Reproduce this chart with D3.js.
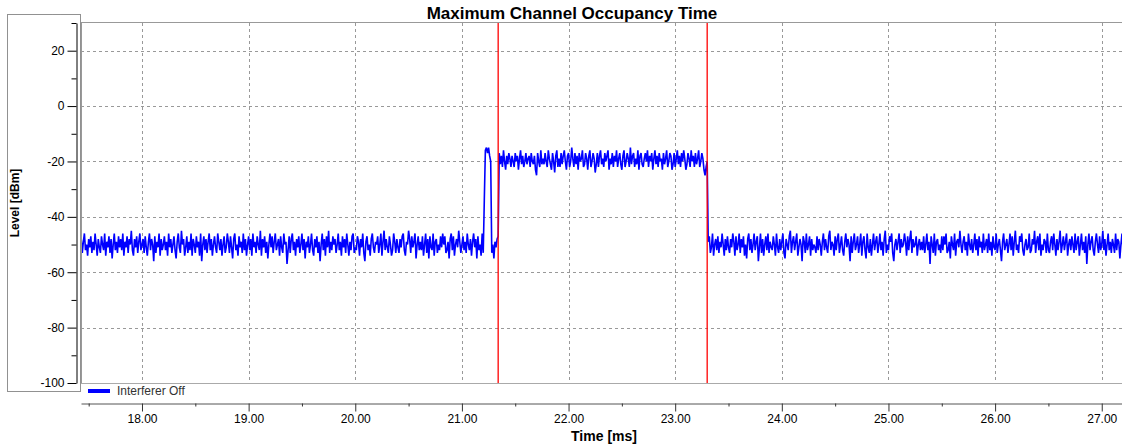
<!DOCTYPE html>
<html>
<head>
<meta charset="utf-8">
<script src="https://cdn.jsdelivr.net/npm/d3@7"></script>
<style>
  html, body { margin: 0; padding: 0; background: #fff; }
  svg { display: block; }
  text { font-family: "Liberation Sans", Arial, sans-serif; }
</style>
</head>
<body>
<svg id="chart" width="1122" height="448"></svg>
<script>
// ---- data ----
const chartTitle = "Maximum Channel Occupancy Time";
const xTitle = "Time [ms]";
const yTitle = "Level [dBm]";
const legendLabel = "Interferer Off";
const xTickValues = [18, 19, 20, 21, 22, 23, 24, 25, 26, 27];
const xMinorTicks = [17.5, 18.5, 19.5, 20.5, 21.5, 22.5, 23.5, 24.5, 25.5, 26.5];
const yTickValues = [-100, -80, -60, -40, -20, 0, 20];
const yMinorTicks = [-90, -70, -50, -30, -10, 10, 30];
const markerTimes = [21.34, 23.30];
const sampleStep = 0.01; // ms
const segmentStarts = [17.41, 21.21, 21.35, 23.31];

const offBefore = [
-47,-51,-48,-53,-49,-46,-52,-50,-54,-48,-51,-47,-53,-49,-52,-46,-50,-54,-48,-51,
-53,-47,-50,-52,-46,-54,-49,-51,-47,-53,-48,-55,-50,-46,-52,-49,-53,-47,-51,-48,
-52,-46,-54,-49,-51,-47,-53,-48,-50,-45,-52,-54,-48,-51,-47,-53,-49,-46,-52,-50,
-48,-53,-47,-51,-54,-49,-46,-52,-48,-50,-56,-47,-53,-49,-51,-46,-54,-48,-52,-50,
-47,-52,-49,-54,-46,-51,-48,-53,-50,-47,-52,-55,-49,-46,-51,-53,-45,-50,-48,-54,
-51,-47,-53,-49,-52,-46,-54,-48,-50,-53,-47,-51,-49,-54,-46,-56,-50,-47,-52,-48,
-53,-49,-46,-52,-48,-54,-50,-47,-51,-53,-46,-49,-52,-48,-54,-50,-47,-53,-51,-46,
-49,-53,-47,-51,-55,-48,-46,-52,-50,-54,-47,-51,-49,-53,-46,-52,-48,-54,-50,-47,
-52,-48,-54,-46,-51,-49,-53,-47,-50,-52,-45,-54,-48,-51,-47,-53,-49,-55,-50,-46,
-51,-47,-53,-49,-46,-52,-50,-48,-54,-47,-51,-53,-46,-50,-49,-57,-52,-47,-53,-48,
-46,-52,-49,-54,-48,-51,-47,-53,-50,-46,-52,-48,-55,-49,-51,-47,-53,-50,-46,-52,
-54,-48,-51,-47,-53,-49,-56,-50,-46,-52,-48,-54,-47,-51,-45,-53,-49,-52,-47,-50,
-48,-53,-50,-46,-52,-49,-54,-47,-51,-48,-53,-46,-50,-54,-49,-52,-47,-46,-53,-51,
-52,-47,-49,-54,-48,-51,-46,-53,-56,-49,-47,-52,-50,-54,-48,-46,-51,-53,-49,-50,
-47,-53,-50,-46,-54,-49,-45,-52,-48,-51,-53,-47,-50,-54,-52,-46,-49,-53,-48,-51,
-53,-48,-51,-47,-46,-52,-54,-49,-50,-45,-48,-53,-47,-51,-49,-46,-55,-50,-47,-52,
-49,-52,-47,-54,-50,-46,-53,-48,-55,-47,-51,-52,-46,-54,-49,-48,-53,-50,-52,-47,
-51,-46,-50,-47,-53,-52,-49,-55,-48,-46,-52,-47,-54,-50,-48,-51,-45,-49,-53,-50,
-47,-52,-49,-53,-46,-50,-52,-48,-54,-49,-46,-51,-48,-55,-47,-52,-50,-54,-46,-53
];

const burst = [-34,-16,-15,-17,-15,-18,-20,-53,-50,-55,-49,-51,-48,-47];

const onLevel = [
-17,-21,-18,-22,-16,-20,-23,-18,-21,-17,-19,-22,-18,-20,
-22,-17,-20,-18,-23,-19,-16,-21,-18,-22,-20,-17,-21,-19,
-18,-22,-17,-20,-21,-18,-23,-25,-17,-20,-22,-16,-21,-19,
-21,-17,-20,-22,-16,-19,-21,-23,-17,-20,-24,-18,-16,-22,
-19,-22,-17,-21,-18,-16,-20,-23,-18,-17,-22,-20,-15,-19,
-22,-17,-21,-18,-23,-17,-20,-19,-16,-22,-21,-17,-19,-23,
-18,-16,-22,-20,-17,-19,-24,-21,-17,-22,-18,-16,-21,-19,
-22,-17,-20,-18,-16,-23,-19,-21,-17,-22,-18,-20,-16,-22,
-19,-17,-21,-23,-18,-16,-22,-20,-17,-19,-22,-15,-21,-18,
-17,-22,-19,-21,-16,-23,-18,-17,-21,-22,-19,-17,-20,-16,
-22,-18,-20,-17,-23,-19,-16,-21,-18,-22,-17,-20,-19,-23,
-17,-21,-19,-16,-22,-20,-17,-18,-23,-21,-17,-22,-19,-16,
-21,-18,-22,-17,-20,-16,-19,-23,-21,-17,-19,-22,-16,-20,
-18,-22,-17,-21,-19,-16,-22,-20,-17,-19,-23,-25,-22,-20
];

const offAfter = [
-49,-47,-53,-51,-46,-54,-50,-48,-52,-47,-53,-49,-51,-46,-50,-54,-48,-52,-47,-51,
-53,-48,-51,-46,-49,-54,-47,-52,-50,-46,-53,-48,-51,-47,-54,-50,-55,-48,-46,-52,
-48,-53,-50,-46,-52,-49,-47,-56,-51,-46,-53,-48,-54,-50,-47,-52,-46,-53,-49,-51,
-52,-47,-50,-54,-46,-51,-53,-48,-52,-49,-46,-53,-55,-48,-50,-52,-47,-45,-53,-49,
-47,-52,-49,-46,-54,-51,-48,-50,-56,-47,-49,-53,-46,-52,-50,-47,-54,-48,-52,-50,
-51,-53,-47,-52,-48,-50,-54,-49,-46,-52,-48,-51,-53,-47,-45,-52,-49,-50,-54,-47,
-52,-48,-46,-53,-50,-47,-52,-54,-49,-46,-51,-48,-50,-56,-47,-53,-49,-46,-52,-50,
-47,-53,-50,-46,-54,-49,-47,-52,-55,-46,-51,-53,-48,-54,-50,-46,-52,-49,-47,-53,
-50,-46,-52,-49,-54,-48,-45,-53,-50,-52,-47,-49,-46,-53,-56,-50,-48,-52,-49,-46,
-53,-48,-51,-50,-46,-49,-54,-47,-52,-48,-45,-53,-48,-51,-50,-47,-54,-50,-48,-52,
-49,-52,-47,-53,-50,-46,-52,-49,-57,-47,-50,-53,-46,-54,-49,-48,-52,-50,-53,-47,
-52,-47,-50,-46,-53,-52,-49,-55,-47,-50,-52,-46,-54,-49,-48,-51,-45,-50,-53,-49,
-47,-52,-49,-54,-46,-50,-52,-48,-53,-50,-46,-52,-48,-54,-47,-51,-49,-53,-46,-52,
-50,-48,-53,-46,-52,-49,-54,-47,-51,-52,-46,-53,-50,-48,-52,-56,-49,-46,-52,-50,
-48,-53,-50,-46,-52,-47,-54,-49,-45,-52,-50,-53,-47,-49,-46,-52,-54,-50,-48,-52,
-51,-46,-53,-52,-48,-50,-45,-53,-49,-47,-52,-46,-54,-50,-52,-48,-49,-53,-46,-52,
-53,-49,-47,-52,-46,-50,-54,-48,-52,-49,-45,-53,-50,-47,-52,-49,-46,-54,-50,-48,
-52,-47,-50,-53,-46,-52,-49,-47,-54,-50,-46,-52,-49,-53,-47,-57,-50,-46,-52,-49,
-47,-52,-54,-49,-46,-50,-53,-47,-52,-50,-45,-52,-48,-54,-50,-46,-52,-49,-53,-48,
-50,-53,-46,-52,-48,-49,-55,-50,-46,-52,-49,-47,-53,-50,-46,-52,-48,-50,-54,-47
];

// ---- build samples ----
const segments = [offBefore, burst, onLevel, offAfter];
const samples = [];
segments.forEach((arr, si) => {
  arr.forEach((v, i) => samples.push({ t: segmentStarts[si] + i * sampleStep, v }));
});

// ---- layout ----
const svg = d3.select("#chart");
const plot = { left: 81, right: 1122, top: 23, bottom: 383 };
const axisY = 403;

const x = d3.scaleLinear().domain([17.428, 27.19]).range([plot.left, plot.right]);
const y = d3.scaleLinear().domain([-100, 30]).range([plot.bottom, plot.top]);

svg.append("rect").attr("width", 1122).attr("height", 448).attr("fill", "#fff");

// dotted box around y axis
svg.append("rect")
  .attr("x", 7.5).attr("y", 14.5).attr("width", 73).attr("height", 377)
  .attr("fill", "none").attr("stroke", "#222").attr("stroke-width", 1)
  .attr("stroke-dasharray", "1,1");

// grid
const grid = svg.append("g");
grid.selectAll(".vg").data(xTickValues).join("line")
  .attr("x1", d => Math.round(x(d)) + 0.5).attr("x2", d => Math.round(x(d)) + 0.5)
  .attr("y1", plot.top).attr("y2", plot.bottom)
  .attr("stroke", "#999").attr("stroke-dasharray", "3,3");
grid.selectAll(".hg").data(yTickValues.filter(d => d > -100)).join("line")
  .attr("x1", plot.left).attr("x2", plot.right)
  .attr("y1", d => Math.round(y(d)) + 0.5).attr("y2", d => Math.round(y(d)) + 0.5)
  .attr("stroke", "#999").attr("stroke-dasharray", "3,3");

// plot borders
svg.append("line").attr("x1", plot.left).attr("x2", plot.right)
  .attr("y1", plot.top - 0.5).attr("y2", plot.top - 0.5).attr("stroke", "#999").attr("stroke-width", 1.2);
svg.append("line").attr("x1", plot.left + 0.5).attr("x2", plot.left + 0.5)
  .attr("y1", plot.top).attr("y2", plot.bottom).attr("stroke", "#999");
svg.append("line").attr("x1", plot.left).attr("x2", plot.right)
  .attr("y1", plot.bottom + 0.5).attr("y2", plot.bottom + 0.5).attr("stroke", "#aaa");

// clip
svg.append("clipPath").attr("id", "clip").append("rect")
  .attr("x", plot.left + 1).attr("y", plot.top).attr("width", plot.right - plot.left - 1)
  .attr("height", plot.bottom - plot.top);

// trace
const line = d3.line().x(d => x(d.t)).y(d => y(d.v));
svg.append("path").datum(samples)
  .attr("clip-path", "url(#clip)")
  .attr("d", line).attr("fill", "none")
  .attr("stroke", "#0000ff").attr("stroke-width", 1.6).attr("stroke-linejoin", "bevel");

// marker lines
svg.selectAll(".marker").data(markerTimes).join("line")
  .attr("x1", d => x(d)).attr("x2", d => x(d))
  .attr("y1", plot.top).attr("y2", plot.bottom)
  .attr("stroke", "#ff0000").attr("stroke-width", 1.3);

// y axis
const yAxisX = 76.5;
const yMinor = svg.append("g").attr("transform", `translate(${yAxisX},0)`)
  .call(d3.axisLeft(y).tickValues(yMinorTicks).tickSize(5).tickSizeOuter(0).tickFormat(""));
yMinor.select(".domain").attr("stroke", "#000");
const yMajor = svg.append("g").attr("transform", `translate(${yAxisX},0)`)
  .call(d3.axisLeft(y).tickValues(yTickValues).tickSize(9).tickSizeOuter(0).tickPadding(3)
    .tickFormat(d => String(d)));
yMajor.select(".domain").remove();
yMajor.selectAll("text").attr("font-size", 12).attr("fill", "#000")
  .attr("font-family", "Liberation Sans, Arial, sans-serif");
svg.selectAll(".tick line").attr("stroke", "#000");

// x axis
const xMinor = svg.append("g").attr("transform", `translate(0,${axisY + 0.5})`)
  .call(d3.axisBottom(x).tickValues(xMinorTicks).tickSize(3).tickSizeOuter(0).tickFormat(""));
xMinor.select(".domain").attr("stroke", "#555");
const xMajor = svg.append("g").attr("transform", `translate(0,${axisY + 0.5})`)
  .call(d3.axisBottom(x).tickValues(xTickValues).tickSize(8).tickSizeOuter(0).tickPadding(3)
    .tickFormat(d3.format(".2f")));
xMajor.select(".domain").remove();
xMajor.selectAll("text").attr("font-size", 12).attr("fill", "#000")
  .attr("font-family", "Liberation Sans, Arial, sans-serif");
xMajor.selectAll(".tick line").attr("stroke", "#333");
xMinor.selectAll(".tick line").attr("stroke", "#333");

// legend
svg.append("line").attr("x1", 88).attr("x2", 110).attr("y1", 391).attr("y2", 391)
  .attr("stroke", "#0000ff").attr("stroke-width", 4);
svg.append("text").attr("x", 117).attr("y", 395)
  .attr("font-size", 12).attr("fill", "#333").text(legendLabel);

// titles
svg.append("text").attr("x", 572).attr("y", 19).attr("text-anchor", "middle")
  .attr("font-size", 17).attr("font-weight", "bold").attr("fill", "#000").text(chartTitle);
svg.append("text").attr("x", 604).attr("y", 441).attr("text-anchor", "middle")
  .attr("font-size", 14).attr("font-weight", "bold").attr("fill", "#000").text(xTitle);
svg.append("text").attr("transform", "translate(19,203) rotate(-90)").attr("text-anchor", "middle")
  .attr("font-size", 12).attr("font-weight", "bold").attr("fill", "#000").text(yTitle);
</script>
</body>
</html>
